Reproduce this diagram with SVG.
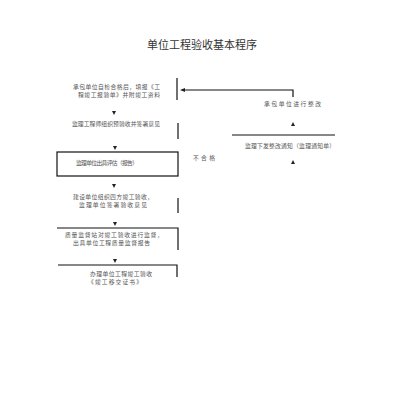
<svg xmlns="http://www.w3.org/2000/svg" width="400" height="410" viewBox="0 0 400 410">
<style>
.t{font-family:"Noto Sans CJK SC","Noto Sans",sans-serif;font-size:5.8px;fill:#555}
.title{font-family:"Noto Sans CJK SC","Noto Sans",sans-serif;font-size:11px;fill:#333}
.b{fill:none;stroke:#111;stroke-width:1.2}
.ah{fill:#222}
</style>
<rect width="400" height="410" fill="#fff"/>
<text class="title" x="202" y="49" text-anchor="middle">单位工程验收基本程序</text>
<g id="n1">
<line class="b" x1="177" y1="78" x2="177" y2="100"/>
<text class="t" x="73" y="88.5" textLength="87">承包单位自检合格后，填报《工</text>
<text class="t" x="78" y="96.5" textLength="82">程竣工报验单》并附竣工资料</text>
</g>
<g id="n2">
<line class="b" x1="178" y1="123" x2="178" y2="139"/>
<text class="t" x="72" y="126" textLength="88">监理工程师组织预验收并签署意见</text>
</g>
<g id="n3">
<rect class="b" x="57" y="152" width="121" height="24"/>
<text class="t" x="76" y="165" textLength="62">监理单位出具评估（报告）</text>
</g>
<g id="n4">
<line class="b" x1="178" y1="198" x2="178" y2="213"/>
<text class="t" x="73" y="198.5" textLength="80">建设单位组织四方竣工验收，</text>
<text class="t" x="79" y="206.5" textLength="68">监理单位签署验收意见</text>
</g>
<g id="n5">
<path class="b" d="M57 228H178V250"/>
<text class="t" x="65" y="236.5" textLength="98">质量监督站对竣工验收进行监督，</text>
<text class="t" x="73" y="244.5" textLength="77">出具单位工程质量监督报告</text>
</g>
<g id="n6">
<path class="b" d="M58 265H177V277"/>
<text class="t" x="90" y="276" textLength="62">办理单位工程竣工验收</text>
<text class="t" x="88" y="284" textLength="54">《竣工移交证书》</text>
</g>
<g id="n7">
<text class="t" x="264" y="106" textLength="57">承包单位进行整改</text>
</g>
<g id="n8">
<line class="b" x1="232" y1="135" x2="335" y2="135"/>
<text class="t" x="245" y="148" textLength="90">监理下发整改通知（监理通知单）</text>
</g>
<g id="connectors">
<path class="b" d="M182 90H293V97"/>
<polygon class="ah" points="180,90 185,88 185,92"/>
<polygon class="ah" points="114,115 112,111 116,111"/>
<polygon class="ah" points="115,150 113,146 117,146"/>
<polygon class="ah" points="114,188 112,184 116,184"/>
<polygon class="ah" points="115,226 113,222 117,222"/>
<polygon class="ah" points="115,263 113,259 117,259"/>
<polygon class="ah" points="293,122 291,126 295,126"/>
<polygon class="ah" points="293,160 291,164 295,164"/>
<text class="t" x="193" y="160" textLength="22">不合格</text>
</g>
</svg>
